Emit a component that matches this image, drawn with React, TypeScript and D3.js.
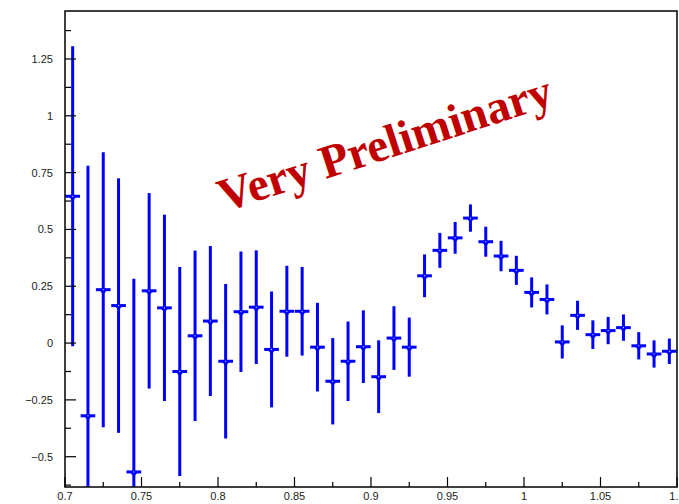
import * as d3 from 'd3'
import { useEffect, useRef } from 'react'

// bin centres (bin width 0.01)
const xs = [0.705, 0.715, 0.725, 0.735, 0.745, 0.755, 0.765, 0.775, 0.785, 0.795,
  0.805, 0.815, 0.825, 0.835, 0.845, 0.855, 0.865, 0.875, 0.885, 0.895,
  0.905, 0.915, 0.925, 0.935, 0.945, 0.955, 0.965, 0.975, 0.985, 0.995,
  1.005, 1.015, 1.025, 1.035, 1.045, 1.055, 1.065, 1.075, 1.085, 1.095]
const values = [0.646, -0.32, 0.235, 0.165, -0.567, 0.23, 0.155, -0.125, 0.032, 0.097,
  -0.08, 0.138, 0.158, -0.028, 0.14, 0.14, -0.018, -0.168, -0.08, -0.016,
  -0.148, 0.022, -0.018, 0.296, 0.408, 0.463, 0.55, 0.446, 0.383, 0.32,
  0.223, 0.192, 0.005, 0.122, 0.037, 0.055, 0.068, -0.012, -0.048, -0.036]
const errors = [0.66, 1.1, 0.605, 0.56, 0.85, 0.43, 0.41, 0.46, 0.375, 0.33,
  0.34, 0.265, 0.25, 0.255, 0.2, 0.195, 0.195, 0.19, 0.175, 0.16,
  0.16, 0.14, 0.13, 0.094, 0.077, 0.07, 0.06, 0.066, 0.067, 0.064,
  0.066, 0.066, 0.073, 0.064, 0.063, 0.06, 0.058, 0.06, 0.06, 0.056]

const xTicks = [0.7, 0.75, 0.8, 0.85, 0.9, 0.95, 1, 1.05, 1.1]
const yTicks = [-0.5, -0.25, 0, 0.25, 0.5, 0.75, 1, 1.25]
const label = 'Very Preliminary'

export default function App() {
  const ref = useRef<SVGSVGElement>(null)
  useEffect(() => {
    const W = 679, H = 504
    const left = 65, right = 677, top = 11, bottom = 487
    const svg = d3.select(ref.current)
    svg.selectAll('*').remove()
    svg.attr('width', W).attr('height', H)

    const x = d3.scaleLinear().domain([0.7, 1.1]).range([left, right])
    const y = d3.scaleLinear().domain([-0.5, 1.25]).range([456.7, 59])

    svg.append('rect').attr('width', W).attr('height', H).attr('fill', 'white')

    svg.append('defs').append('clipPath').attr('id', 'plot')
      .append('rect').attr('x', left).attr('y', top)
      .attr('width', right - left).attr('height', bottom - top)

    const g = svg.append('g').attr('clip-path', 'url(#plot)')

    // error bars
    g.selectAll('line.err').data(xs).join('line').attr('class', 'err')
      .attr('x1', d => x(d)).attr('x2', d => x(d))
      .attr('y1', (d, i) => y(values[i] + errors[i]))
      .attr('y2', (d, i) => y(values[i] - errors[i]))
      .attr('stroke', '#0000ff').attr('stroke-width', 3)

    g.selectAll('line.bin').data(xs).join('line').attr('class', 'bin')
      .attr('x1', d => x(d - 0.0048)).attr('x2', d => x(d + 0.0048))
      .attr('y1', (d, i) => y(values[i])).attr('y2', (d, i) => y(values[i]))
      .attr('stroke', '#0000ff').attr('stroke-width', 3)

    g.selectAll('path.mk').data(xs).join('path').attr('class', 'mk')
      .attr('d', (d, i) => {
        const cx = x(d), cy = y(values[i])
        return `M${cx - 4},${cy} L${cx + 4},${cy} L${cx},${cy + 5} Z`
      })
      .attr('fill', '#0000ff')

    g.selectAll('rect.dot').data(xs).join('rect').attr('class', 'dot')
      .attr('x', d => x(d) - 0.5).attr('y', (d, i) => y(values[i]) - 0.5)
      .attr('width', 1).attr('height', 1).attr('fill', 'white')

    // frame
    svg.append('rect').attr('x', left).attr('y', top)
      .attr('width', right - left).attr('height', bottom - top)
      .attr('fill', 'none').attr('stroke', '#000').attr('stroke-width', 1.5)

    const axis = svg.append('g').attr('stroke', '#000').attr('stroke-width', 1.2)
    // y ticks (major + minor), inward
    const yMinor = d3.range(-0.625, 1.45, 0.125)
    axis.selectAll('line.ym').data(yMinor).join('line').attr('class', 'ym')
      .attr('x1', left).attr('y1', d => y(d))
      .attr('x2', d => left + (Math.abs(d / 0.25 - Math.round(d / 0.25)) < 1e-6 ? 11 : 6))
      .attr('y2', d => y(d))
    // x ticks
    const xMinor = d3.range(0.7, 1.1001, 0.025)
    axis.selectAll('line.xm').data(xMinor).join('line').attr('class', 'xm')
      .attr('x1', d => x(d)).attr('x2', d => x(d)).attr('y1', bottom)
      .attr('y2', d => bottom - (Math.abs(d / 0.05 - Math.round(d / 0.05)) < 1e-6 ? 10 : 5))

    const font = 'Liberation Sans, Arial, sans-serif'
    svg.append('g').selectAll('text').data(yTicks).join('text')
      .attr('x', 53).attr('y', d => y(d) + 4)
      .attr('text-anchor', 'end').attr('font-family', font).attr('font-size', 11)
      .attr('fill', '#222')
      .text(d => d3.format('')(d).replace('-', '\u2212'))

    svg.append('g').selectAll('text').data(xTicks).join('text')
      .attr('x', d => x(d)).attr('y', bottom + 13)
      .attr('text-anchor', 'middle').attr('font-family', font).attr('font-size', 11)
      .attr('fill', '#222')
      .text(d => String(d))

    svg.append('text')
      .attr('transform', 'translate(224,212) rotate(-18)')
      .attr('font-family', 'Liberation Serif, Times New Roman, serif')
      .attr('font-weight', 'bold').attr('font-size', 47)
      .attr('fill', '#c00000')
      .text(label)
  }, [])

  return (
    <div style={{ position: 'absolute', left: 0, top: 0 }}>
      <svg ref={ref} style={{ display: 'block' }} />
    </div>
  )
}
